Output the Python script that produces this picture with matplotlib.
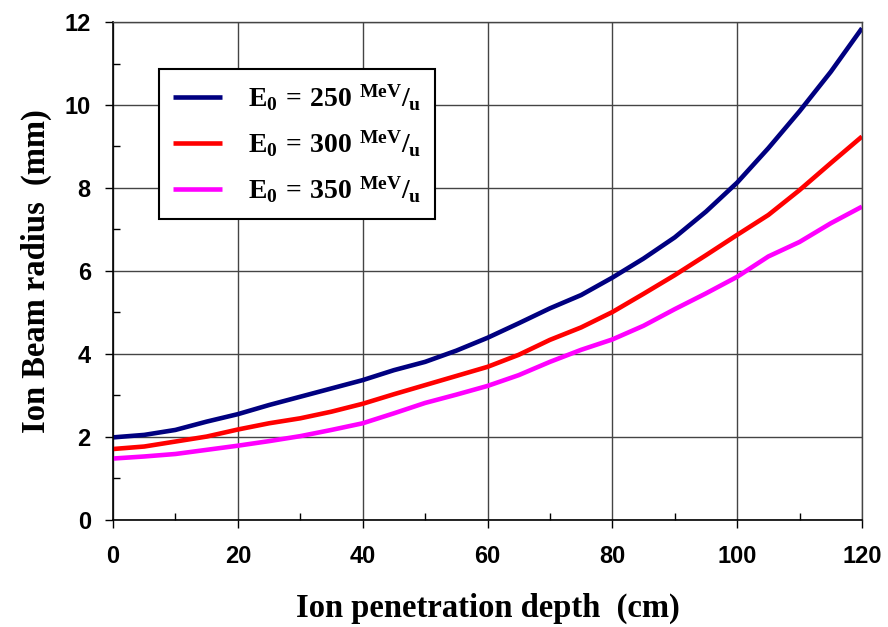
import matplotlib.pyplot as plt
import numpy as np
from matplotlib.ticker import MultipleLocator

depth = [0, 5, 10, 15, 20, 25, 30, 35, 40, 45, 50, 55, 60, 65, 70, 75, 80, 85, 90, 95, 100, 105, 110, 115, 120]
r250 = [1.99, 2.05, 2.17, 2.37, 2.55, 2.77, 2.97, 3.17, 3.37, 3.61, 3.81, 4.08, 4.39, 4.74, 5.10, 5.42, 5.84, 6.30, 6.81, 7.43, 8.13, 8.96, 9.85, 10.8, 11.85]
r300 = [1.71, 1.77, 1.89, 2.01, 2.18, 2.33, 2.45, 2.61, 2.80, 3.03, 3.25, 3.47, 3.69, 3.98, 4.34, 4.64, 5.01, 5.45, 5.90, 6.38, 6.87, 7.35, 7.95, 8.6, 9.24]
r350 = [1.48, 1.53, 1.59, 1.69, 1.79, 1.90, 2.02, 2.17, 2.33, 2.57, 2.82, 3.02, 3.23, 3.49, 3.81, 4.10, 4.35, 4.68, 5.08, 5.46, 5.86, 6.35, 6.70, 7.15, 7.55]
energies = ['250', '300', '350']
colors = ['#000080', '#ff0000', '#ff00ff']

plt.rcParams['mathtext.fontset'] = 'custom'
plt.rcParams['mathtext.rm'] = 'Liberation Serif:bold'
plt.rcParams['mathtext.it'] = 'Liberation Serif:bold'
plt.rcParams['mathtext.bf'] = 'Liberation Serif:bold'

fig = plt.figure(figsize=(8.88, 6.27), dpi=100)
ax = fig.add_axes([0.1273, 0.1707, 0.8434, 0.7942])

for r, e, c in zip([r250, r300, r350], energies, colors):
    ax.plot(depth, r, color=c, lw=3.3, solid_capstyle='butt',
            label=r'$\mathrm{E_0\,=\,' + e + r'\ ^{MeV}/_{u}}$')

ax.set_xlim(0, 120)
ax.set_ylim(0, 12)
ax.xaxis.set_major_locator(MultipleLocator(20))
ax.xaxis.set_minor_locator(MultipleLocator(10))
ax.yaxis.set_major_locator(MultipleLocator(2))
ax.yaxis.set_minor_locator(MultipleLocator(1))
ax.grid(True, which='major', color='#444444', lw=1.0)
ax.tick_params(which='major', direction='out', length=6, width=1)
ax.tick_params(axis='x', which='major', pad=12)
ax.tick_params(axis='y', which='major', pad=10)
ax.tick_params(which='minor', direction='in', length=5, width=1)

for lab in ax.get_xticklabels() + ax.get_yticklabels():
    lab.set_fontfamily('Liberation Sans')
    lab.set_fontweight('bold')
    lab.set_fontsize(17)

for s in ['left', 'bottom']:
    ax.spines[s].set_color('black')
    ax.spines[s].set_linewidth(1.2)
for s in ['top', 'right']:
    ax.spines[s].set_color('#444444')
    ax.spines[s].set_linewidth(1.0)

ax.set_xlabel('Ion penetration depth  (cm)', fontfamily='Liberation Serif',
              fontweight='bold', fontsize=23.5, labelpad=18)
ax.set_ylabel('Ion Beam radius  (mm)', fontfamily='Liberation Serif',
              fontweight='bold', fontsize=23.5, labelpad=9)

leg = ax.legend(loc='upper left', bbox_to_anchor=(0.0614, 0.9056), borderaxespad=0,
                fontsize=20, handlelength=1.75, handletextpad=0.95, labelspacing=0.55,
                fancybox=False, framealpha=1, edgecolor='black', borderpad=0.5)
leg.get_frame().set_linewidth(1.5)

fig.savefig('out.png', dpi=100)
